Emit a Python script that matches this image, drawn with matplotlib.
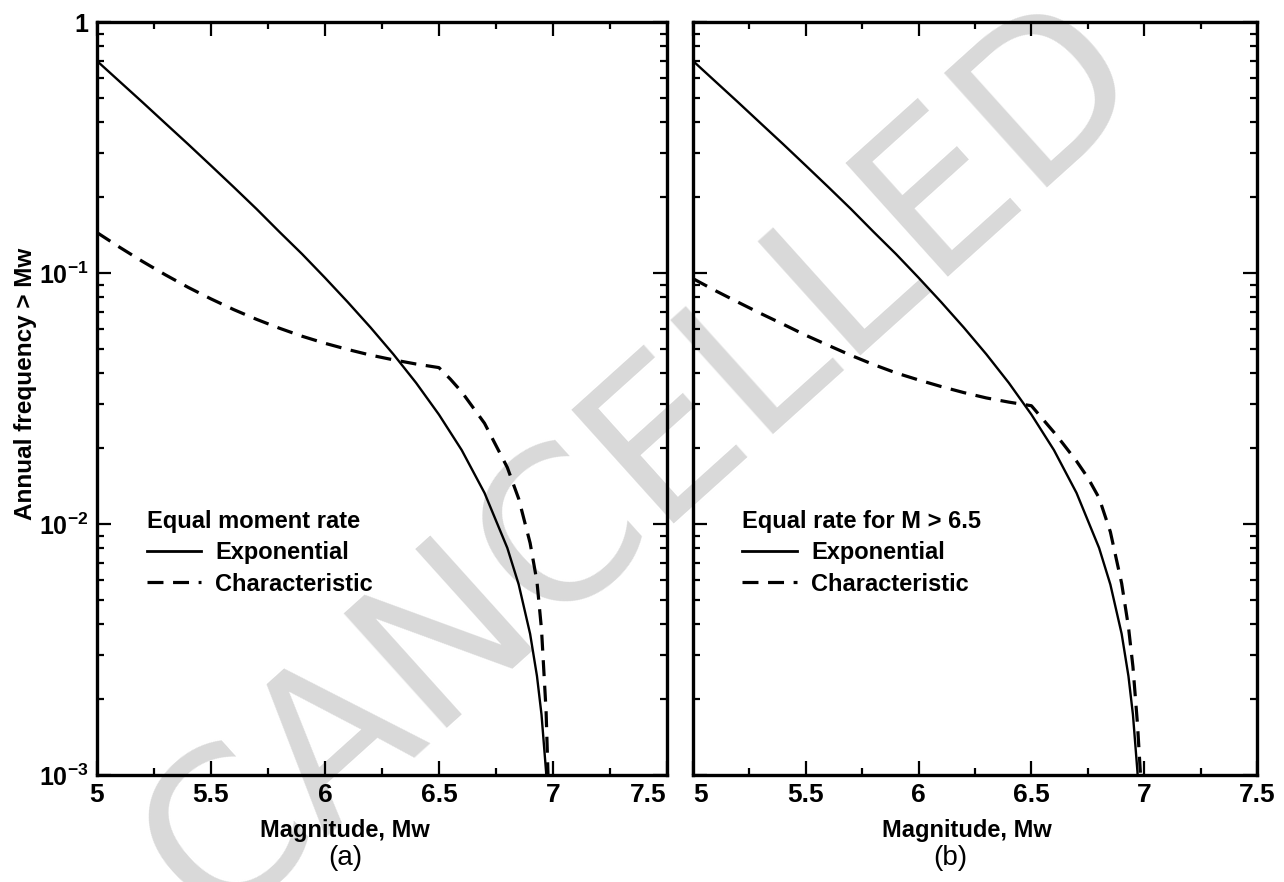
import numpy as np
import matplotlib.pyplot as plt
from matplotlib.ticker import FixedLocator, MultipleLocator, LogLocator, NullFormatter
from matplotlib.lines import Line2D

plt.rcParams['font.family'] = ['Liberation Sans', 'DejaVu Sans']
plt.rcParams['mathtext.fontset'] = 'custom'
plt.rcParams['mathtext.rm'] = 'Liberation Sans:bold'
plt.rcParams['mathtext.bf'] = 'Liberation Sans:bold'
plt.rcParams['mathtext.default'] = 'bf'

# magnitude grid shared by the exponential curve
mag_exp = [5.0, 5.1, 5.2, 5.3, 5.4, 5.5, 5.6, 5.7, 5.8, 5.9, 6.0, 6.1, 6.2, 6.3,
           6.4, 6.5, 6.6, 6.7, 6.8, 6.85, 6.9, 6.93, 6.95, 6.97, 6.98]
freq_exp = [0.700, 0.579, 0.479, 0.395, 0.326, 0.268, 0.220, 0.180, 0.146, 0.119,
            0.0958, 0.0766, 0.0607, 0.0475, 0.0365, 0.0273, 0.0197, 0.0133,
            0.00803, 0.00574, 0.00365, 0.00248, 0.00174, 0.00103, 0.00067]

# (a) characteristic, equal moment rate
mag_char_a = [5.0, 5.1, 5.2, 5.3, 5.4, 5.5, 5.6, 5.7, 5.8, 5.9, 6.0, 6.1, 6.2, 6.3,
              6.4, 6.5, 6.55, 6.6, 6.7, 6.8, 6.85, 6.9, 6.93, 6.95, 6.97, 6.98]
freq_char_a = [0.145, 0.1266, 0.1112, 0.0984, 0.0877, 0.0789, 0.0715, 0.0654, 0.0603,
               0.0560, 0.0525, 0.0496, 0.0471, 0.0451, 0.0434, 0.0420, 0.0378, 0.0336,
               0.0252, 0.0168, 0.0126, 0.0084, 0.0059, 0.0038, 0.0018, 0.0009]

# (b) characteristic, equal rate for M > 6.5
mag_char_b = [5.0, 5.1, 5.2, 5.3, 5.4, 5.5, 5.6, 5.7, 5.8, 5.9, 6.0, 6.1, 6.2, 6.3,
              6.4, 6.5, 6.55, 6.6, 6.64, 6.7, 6.75, 6.8, 6.85, 6.9, 6.93, 6.95, 6.97, 6.99]
freq_char_b = [0.095, 0.085, 0.0765, 0.069, 0.0625, 0.0565, 0.0515, 0.0470, 0.0432,
               0.0400, 0.0375, 0.0353, 0.0334, 0.0318, 0.0306, 0.0296, 0.0262, 0.0232,
               0.0209, 0.0178, 0.0153, 0.0127, 0.0093, 0.0058, 0.0039, 0.0027, 0.0016,
               0.0008]

xticks = [5, 5.5, 6, 6.5, 7, 7.5]
xtick_labels = ['5', '5.5', '6', '6.5', '7', '7.5']
yticks = [1e-3, 1e-2, 1e-1, 1]
ytick_labels = ['10$^{-3}$', '10$^{-2}$', '10$^{-1}$', '1']

panels = [
    ('Equal moment rate', mag_char_a, freq_char_a, '(a)'),
    ('Equal rate for M > 6.5', mag_char_b, freq_char_b, '(b)'),
]

fig = plt.figure(figsize=(12.84, 8.82), dpi=100)
ax_rects = [[0.0755, 0.1213, 0.4439, 0.8537], [0.5397, 0.1213, 0.4393, 0.8537]]
label_x = [0.435, 0.486]
panel_x = [0.269, 0.74]
dash = (0, (5, 3))

for i, (title, mc, fc, tag) in enumerate(panels):
    ax = fig.add_axes(ax_rects[i])
    ax.set_facecolor('none')
    ax.plot(mag_exp, freq_exp, color='black', lw=1.7, solid_capstyle='butt')
    ax.plot(mc, fc, color='black', lw=2.3, linestyle=dash)
    ax.set_yscale('log')
    ax.set_xlim(5, 7.5)
    ax.set_ylim(1e-3, 1)

    ax.xaxis.set_major_locator(FixedLocator(xticks))
    ax.xaxis.set_minor_locator(MultipleLocator(0.25))
    lbls = ax.set_xticklabels(xtick_labels, fontsize=19, fontweight='bold')
    # keep the neighbouring "7.5" and "5" apart where the panels meet
    if i == 0:
        lbls[-1].set_horizontalalignment('right')
    else:
        lbls[0].set_horizontalalignment('left')
    ax.yaxis.set_major_locator(FixedLocator(yticks))
    ax.yaxis.set_minor_locator(LogLocator(base=10, subs=np.arange(2, 10)))
    ax.yaxis.set_minor_formatter(NullFormatter())
    if i == 0:
        ax.set_yticklabels(ytick_labels, fontsize=18, fontweight='bold')
        ax.set_ylabel('Annual frequency > Mw', fontsize=17.5, fontweight='bold')
        ax.yaxis.set_label_coords(-0.105, 0.52)
    else:
        ax.set_yticklabels([])

    ax.tick_params(which='both', direction='in', top=True, right=True, width=1.6)
    ax.tick_params(which='major', length=10, pad=6)
    ax.tick_params(which='minor', length=5)
    for s in ax.spines.values():
        s.set_linewidth(2.4)

    ax.set_xlabel('Magnitude, Mw', fontsize=17, fontweight='bold')
    ax.xaxis.set_label_coords(label_x[i], -0.058)

    handles = [Line2D([], [], color='black', lw=2.0),
               Line2D([], [], color='black', lw=2.3, linestyle=dash)]
    ax.legend(handles, ['Exponential', 'Characteristic'], title=title,
              loc='upper left', bbox_to_anchor=(0.05, 0.38), frameon=False,
              handlelength=2.3, handletextpad=0.6, labelspacing=0.35,
              alignment='left', prop={'size': 17, 'weight': 'bold'},
              title_fontproperties={'size': 17, 'weight': 'bold'})

    fig.text(panel_x[i], 0.027, tag, fontsize=20, ha='center', va='center')

# watermark stamped across the scan
fig.text(0.50, 0.475, 'CANCELLED', fontsize=152, color='#d9d9d9', rotation=42,
         ha='center', va='center', family='DejaVu Sans', zorder=-1)

fig.savefig('out.png', dpi=100)
